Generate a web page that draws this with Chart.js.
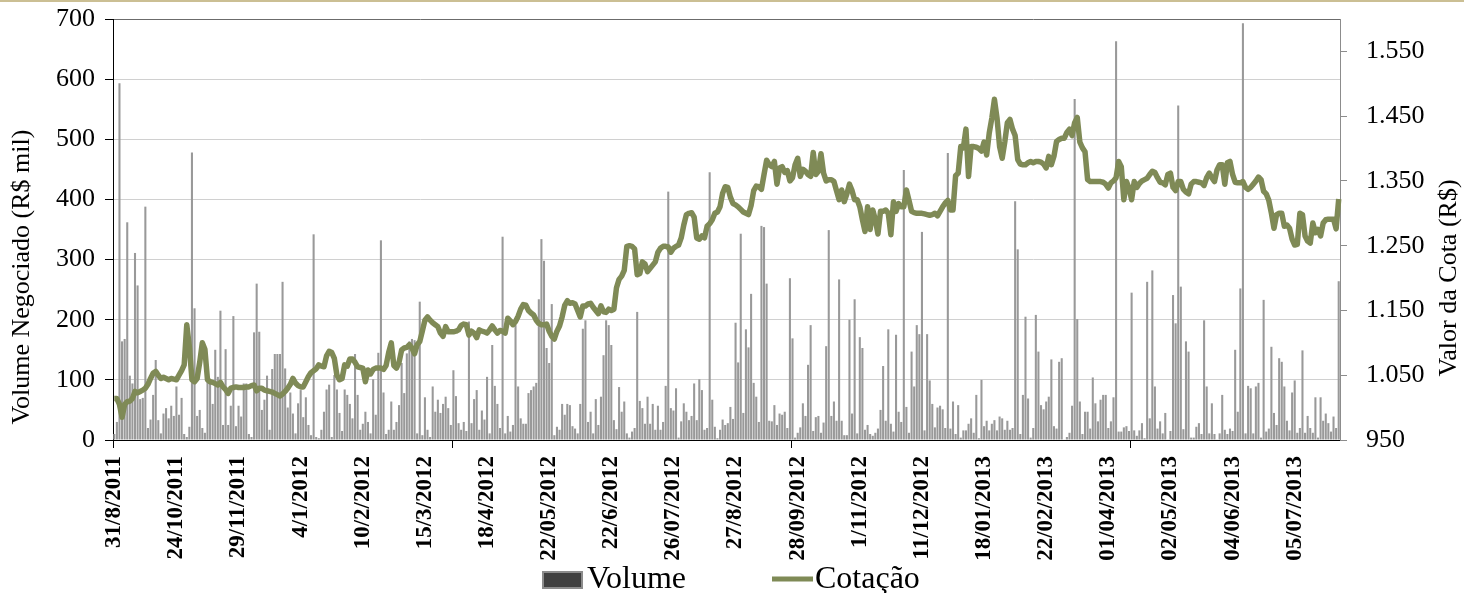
<!DOCTYPE html>
<html>
<head>
<meta charset="utf-8">
<script src="https://cdn.jsdelivr.net/npm/chart.js@4.4.1/dist/chart.umd.min.js"></script>
<style>
  html, body { margin: 0; padding: 0; background: #fff; }
  #wrap { width: 1464px; height: 593px; position: relative; }
</style>
</head>
<body>
<div id="wrap"><canvas id="chart"></canvas></div>
<script>
// one label every 24 sessions
const xTickLabels = ["31/8/2011", "24/10/2011", "29/11/2011", "4/1/2012", "10/2/2012", "15/3/2012",
  "18/4/2012", "22/05/2012", "22/6/2012", "26/07/2012", "27/8/2012", "28/09/2012", "1/11/2012",
  "11/12/2012", "18/01/2013", "22/02/2013", "01/04/2013", "02/05/2013", "04/06/2013", "05/07/2013"];

const volumeTicks = [0, 100, 200, 300, 400, 500, 600, 700];
const cotaTicks = [950, 1050, 1150, 1250, 1350, 1450, 1550];

// Volume negociado (R$ mil)
const volume = [
  10, 30, 593, 164, 168, 362, 107, 94, 311, 257,
  68, 70, 388, 20, 34, 75, 133, 33, 11, 44,
  53, 36, 57, 40, 89, 42, 70, 10, 5, 22,
  478, 219, 40, 50, 20, 12, 125, 100, 60, 150,
  105, 215, 25, 151, 25, 57, 206, 23, 57, 39,
  94, 94, 10, 5, 179, 260, 180, 50, 67, 107,
  17, 118, 143, 143, 143, 263, 119, 54, 79, 44,
  11, 61, 83, 38, 71, 25, 8, 342, 5, 3,
  17, 47, 84, 92, 5, 108, 84, 45, 15, 84,
  75, 60, 36, 143, 75, 17, 27, 47, 30, 11,
  101, 42, 145, 332, 79, 10, 17, 64, 17, 30,
  58, 128, 78, 144, 164, 168, 166, 11, 230, 8,
  71, 17, 5, 89, 47, 67, 45, 60, 72, 53,
  25, 116, 73, 28, 17, 30, 15, 197, 28, 68,
  83, 17, 49, 34, 105, 11, 158, 90, 60, 20,
  338, 11, 40, 14, 25, 191, 89, 36, 27, 27,
  78, 83, 89, 95, 234, 334, 298, 153, 128, 226,
  8, 22, 17, 60, 42, 60, 58, 23, 19, 11,
  60, 185, 199, 30, 47, 11, 68, 25, 72, 141,
  199, 191, 158, 33, 18, 88, 47, 64, 11, 4,
  14, 20, 213, 65, 53, 27, 72, 27, 60, 17,
  57, 17, 30, 90, 413, 53, 49, 86, 4, 31,
  61, 47, 33, 40, 94, 33, 101, 83, 17, 20,
  445, 67, 22, 3, 17, 34, 25, 28, 55, 35,
  195, 129, 343, 45, 184, 154, 243, 95, 72, 30,
  356, 354, 260, 32, 31, 58, 25, 44, 42, 47,
  20, 269, 169, 4, 12, 21, 61, 40, 125, 191,
  15, 38, 40, 12, 29, 156, 349, 40, 64, 32,
  267, 32, 8, 8, 200, 44, 234, 11, 171, 153,
  17, 25, 10, 7, 12, 19, 50, 123, 32, 184,
  27, 14, 175, 47, 30, 449, 55, 12, 147, 89,
  191, 176, 346, 16, 176, 99, 60, 21, 54, 57,
  51, 20, 477, 19, 64, 10, 58, 4, 16, 16,
  27, 36, 12, 75, 3, 100, 23, 32, 16, 27,
  33, 16, 39, 36, 17, 32, 17, 20, 397, 317,
  10, 75, 205, 69, 4, 20, 208, 147, 58, 51,
  64, 72, 134, 23, 19, 130, 136, 1, 5, 12,
  57, 567, 201, 64, 10, 47, 47, 19, 104, 61,
  31, 67, 75, 75, 20, 31, 71, 663, 14, 14,
  21, 23, 15, 245, 16, 7, 16, 28, 3, 263,
  36, 282, 89, 19, 31, 11, 45, 1, 15, 241,
  194, 556, 255, 18, 164, 147, 4, 4, 22, 28,
  10, 199, 89, 11, 61, 10, 1, 11, 75, 17,
  10, 19, 15, 150, 47, 252, 693, 11, 90, 86,
  11, 89, 95, 4, 233, 14, 19, 155, 45, 25,
  136, 130, 89, 32, 16, 79, 99, 12, 20, 149,
  12, 40, 20, 12, 71, 4, 71, 32, 44, 28,
  14, 39, 20, 264
];

// Valor da cota (R$)
const cotacao = [
  1014, 1014, 1005, 985, 1005, 1009, 1010, 1014, 1025, 1023,
  1025, 1027, 1030, 1036, 1045, 1053, 1056, 1050, 1045, 1047,
  1045, 1043, 1045, 1044, 1043, 1050, 1057, 1066, 1128, 1094,
  1043, 1040, 1045, 1070, 1100, 1090, 1043, 1040, 1039, 1037,
  1035, 1039, 1032, 1028, 1022, 1030, 1031, 1032, 1031, 1031,
  1031, 1032, 1032, 1034, 1035, 1026, 1030, 1030, 1027, 1026,
  1025, 1024, 1022, 1020, 1018, 1021, 1025, 1030, 1036, 1045,
  1038, 1034, 1032, 1032, 1040, 1048, 1054, 1057, 1060, 1066,
  1064, 1063, 1080, 1087, 1085, 1076, 1050, 1043, 1045, 1066,
  1064, 1075, 1075, 1070, 1063, 1062, 1061, 1040, 1058, 1052,
  1059, 1061, 1061, 1061, 1059, 1065, 1085, 1100, 1065, 1061,
  1070, 1089, 1092, 1093, 1097, 1092, 1083, 1097, 1102, 1118,
  1135, 1140, 1135, 1131, 1128, 1125, 1115, 1110, 1125, 1117,
  1117, 1117, 1118, 1120, 1127, 1129, 1128, 1112, 1118, 1115,
  1108, 1120, 1118, 1117, 1115, 1120, 1126, 1120, 1115, 1119,
  1118, 1115, 1138, 1134, 1128, 1133, 1141, 1152, 1159, 1158,
  1150, 1146, 1143, 1135, 1130, 1128, 1128, 1129, 1118, 1110,
  1106, 1118, 1126, 1140, 1158, 1165, 1161, 1162, 1160, 1150,
  1140, 1157, 1157, 1160, 1161, 1155, 1150, 1145, 1157, 1148,
  1147, 1152, 1150, 1152, 1185, 1198, 1203, 1212, 1249, 1250,
  1249, 1245, 1205, 1207, 1225, 1222, 1210, 1215, 1220, 1225,
  1240, 1246, 1249, 1249, 1248, 1240, 1246, 1249, 1251, 1262,
  1282, 1298, 1300, 1301, 1294, 1262, 1260, 1265, 1262, 1280,
  1284, 1290, 1300, 1302, 1310, 1331, 1341, 1340, 1325, 1315,
  1313, 1310, 1306, 1302, 1300, 1298, 1312, 1335, 1342, 1341,
  1337, 1360, 1382, 1375, 1372, 1380, 1345, 1370, 1372, 1363,
  1366, 1350, 1355, 1375, 1385, 1357, 1368, 1365, 1360, 1357,
  1394, 1360, 1365, 1392, 1362, 1350, 1352, 1352, 1349, 1335,
  1321, 1336, 1318, 1330, 1345, 1335, 1321, 1321, 1310, 1290,
  1272, 1310, 1275, 1305, 1290, 1268, 1303, 1303, 1305, 1300,
  1267, 1318, 1303, 1315, 1310, 1310, 1336, 1320, 1303, 1301,
  1300, 1300, 1300, 1299, 1298, 1297, 1298, 1300, 1296, 1303,
  1310, 1316, 1320, 1305, 1305, 1358, 1362, 1403, 1401, 1430,
  1357, 1403, 1403, 1402, 1400, 1396, 1410, 1390, 1424, 1447,
  1476, 1447, 1403, 1385, 1410, 1440, 1445, 1430, 1420, 1383,
  1376, 1375, 1375, 1378, 1380, 1378, 1380, 1380, 1379, 1376,
  1370, 1388, 1375, 1388, 1411, 1414, 1416, 1416, 1425, 1430,
  1420, 1440, 1448, 1410, 1401, 1395, 1352, 1349, 1349, 1349,
  1349, 1349, 1348, 1345, 1339, 1347, 1350, 1355, 1380, 1372,
  1321, 1349, 1339, 1321, 1349, 1340, 1346, 1350, 1352, 1354,
  1360, 1365, 1363, 1355, 1348, 1347, 1344, 1360, 1362, 1340,
  1335, 1349, 1349, 1337, 1333, 1330, 1345, 1349, 1349, 1348,
  1347, 1343, 1355, 1362, 1355, 1349, 1367, 1375, 1375, 1345,
  1378, 1380, 1360, 1348, 1347, 1347, 1349, 1340, 1337, 1340,
  1345, 1350, 1356, 1352, 1334, 1330, 1320, 1300, 1277, 1298,
  1300, 1300, 1280, 1282, 1277, 1260, 1251, 1252, 1300, 1298,
  1265, 1257, 1254, 1285, 1270, 1275, 1265, 1285, 1290, 1291,
  1291, 1291, 1276, 1322
];

const labelEvery = 24;
const markEvery = 131;
const serif = '"Liberation Serif", "Times New Roman", serif';
const barColor = '#999999';
const lineColor = '#7F8A56';

const categories = volume.map((v, i) => i % labelEvery === 0 ? xTickLabels[i / labelEvery] : '');

function fmtCota(v) {
  if (v < 1000) return String(v);
  return Math.floor(v / 1000) + '.' + String(v % 1000).padStart(3, '0');
}

// fixed box sizes so the plot area lands where the original one is
function fixSide(size) {
  return (scale) => {
    if (scale.isHorizontal()) scale.height = size;
    else scale.width = size;
    scale.paddingTop = 0;
    scale.paddingBottom = 0;
    scale.paddingLeft = 0;
    scale.paddingRight = 0;
  };
}

// titles, legend and the thin rule on top
const decor = {
  id: 'decor',
  afterDraw(chart) {
    const ctx = chart.ctx;
    ctx.save();
    ctx.fillStyle = '#cbbf94';
    ctx.fillRect(0, 0, chart.width, 2);

    ctx.fillStyle = '#000';
    ctx.font = '26px ' + serif;
    ctx.textAlign = 'center';
    ctx.textBaseline = 'middle';
    ctx.save();
    ctx.translate(22, 277);
    ctx.rotate(-Math.PI / 2);
    ctx.fillText('Volume Negociado (R$ mil)', 0, 0);
    ctx.restore();
    ctx.save();
    ctx.translate(1449, 278);
    ctx.rotate(-Math.PI / 2);
    ctx.fillText('Valor da Cota (R$)', 0, 0);
    ctx.restore();

    // legend
    ctx.fillStyle = '#404040';
    ctx.fillRect(543, 572, 39, 16);
    ctx.strokeStyle = '#8c8c8c';
    ctx.lineWidth = 2;
    ctx.strokeRect(543, 572, 39, 16);
    ctx.strokeStyle = lineColor;
    ctx.lineWidth = 5;
    ctx.beginPath();
    ctx.moveTo(772, 579);
    ctx.lineTo(813, 579);
    ctx.stroke();
    ctx.fillStyle = '#000';
    ctx.font = '32px ' + serif;
    ctx.textAlign = 'left';
    ctx.textBaseline = 'alphabetic';
    ctx.fillText('Volume', 587, 588);
    ctx.fillText('Cotação', 815, 588);
    ctx.restore();
  }
};

new Chart(document.getElementById('chart'), {
  type: 'bar',
  data: {
    labels: categories,
    datasets: [{
      type: 'line',
      label: 'Cotação',
      data: cotacao,
      yAxisID: 'y1',
      borderColor: lineColor,
      borderWidth: 5.5,
      borderJoinStyle: 'round',
      pointRadius: 0,
      tension: 0,
      order: 0
    }, {
      label: 'Volume',
      data: volume,
      yAxisID: 'y',
      backgroundColor: barColor,
      barPercentage: 0.8,
      categoryPercentage: 1.0,
      order: 1
    }]
  },
  options: {
    responsive: true,
    maintainAspectRatio: false,
    devicePixelRatio: 1,
    animation: false,
    layout: {padding: {top: 19, left: 0, right: 0, bottom: 0}},
    plugins: {
      legend: {display: false},
      tooltip: {enabled: false}
    },
    scales: {
      x: {
        afterFit: fixSide(153),
        border: {color: '#000', width: 1},
        grid: {
          drawOnChartArea: false,
          tickLength: 8,
          color: (c) => c.index % markEvery === 0 ? '#000' : 'rgba(0,0,0,0)'
        },
        ticks: {
          autoSkip: false,
          maxRotation: 90,
          minRotation: 90,
          padding: 8,
          color: '#000',
          font: {family: serif, size: 23, weight: 'bold'},
          callback: (v, i) => categories[i]
        }
      },
      y: {
        position: 'left',
        min: volumeTicks[0],
        max: volumeTicks[volumeTicks.length - 1],
        afterFit: fixSide(113),
        afterBuildTicks: (axis) => { axis.ticks = volumeTicks.map(v => ({value: v})); },
        border: {color: '#000', width: 1},
        grid: {
          color: (c) => c.tick && c.tick.value === 700 ? '#6b6b6b' : '#d0d0d0',
          tickColor: '#000',
          tickLength: 8
        },
        ticks: {
          padding: 10,
          color: '#000',
          font: {family: serif, size: 26}
        }
      },
      y1: {
        position: 'right',
        min: 950,
        max: 1600,
        afterFit: fixSide(124),
        afterBuildTicks: (axis) => { axis.ticks = cotaTicks.map(v => ({value: v})); },
        border: {color: '#8c8c8c', width: 1},
        grid: {
          drawOnChartArea: false,
          color: '#8c8c8c',
          tickLength: 7
        },
        ticks: {
          padding: 19,
          color: '#000',
          font: {family: serif, size: 26},
          callback: (v) => fmtCota(v)
        }
      }
    }
  },
  plugins: [decor]
});
</script>
</body>
</html>
